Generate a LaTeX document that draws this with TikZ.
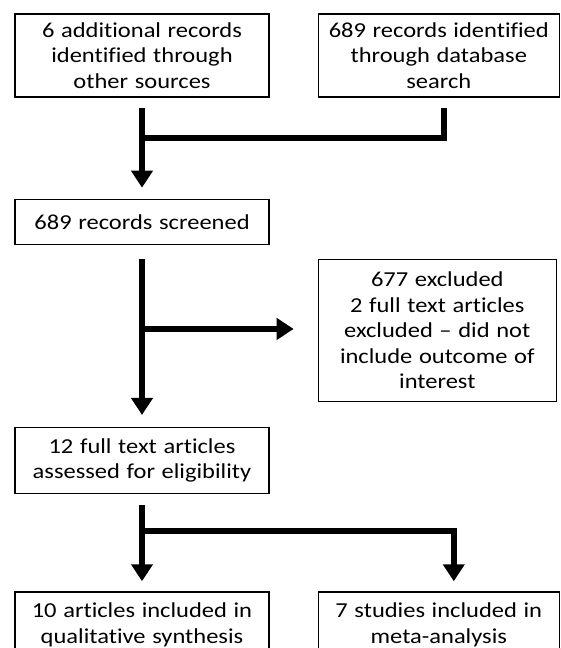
\documentclass[tikz,border=0pt]{standalone}
\usepackage{fontspec}
\newfontfamily\boxfont[Ligatures=NoCommon, FakeStretch=1.15, WordSpace=1.2]{Carlito}
\usetikzlibrary{arrows.meta,positioning}

\begin{document}
\begin{tikzpicture}[node distance=1cm,
    box/.style={rectangle, draw, line width=1.3pt, align=center, inner sep=0pt, minimum width=254pt, font=\boxfont\fontsize{21.3}{25.5}\selectfont},
    wide/.style={box, minimum width=241pt},
    link/.style={line width=6pt},
    arrow/.style={link, -{Triangle[width=21pt,length=17pt]}}]

    \useasboundingbox (0,0) rectangle (560pt,-648pt);

    \node[box, minimum height=83pt] (other) at (142pt,-55.5pt) {6 additional records\\identified through\\other sources};
    \node[wide, minimum height=83pt, right=48pt of other] (dbase) {689 records identified\\through database\\search};
    \node[box, minimum height=45pt, below=101pt of other] (screened) {689 records screened};
    \node[wide, minimum width=238pt, minimum height=142pt, below right=14pt and 48pt of screened] (excluded) {677 excluded\\2 full text articles\\excluded – did not\\include outcome of\\interest};
    \node[box, minimum height=66pt, below=182pt of screened] (eligible) {12 full text articles\\assessed for eligibility};
    \node[box, minimum height=66pt, below=97pt of eligible] (qualitative) {10 articles included in\\qualitative synthesis};
    \node[wide, minimum height=66pt, right=48pt of qualitative] (meta) {7 studies included in\\meta-analysis};

    \coordinate[below=40pt of other] (merge);
    \coordinate[below=84pt of screened] (split);
    \coordinate[below=37pt of eligible] (fork);

    \draw[link, shorten <=10pt] ([xshift=5pt]dbase.south) |- (merge);
    \draw[arrow, shorten <=10pt, shorten >=11pt] (other) -- (screened);
    \draw[arrow, shorten <=14pt, shorten >=12pt] (screened) -- (eligible);
    \draw[arrow, shorten >=24pt] (split) -- (split -| excluded.west);
    \draw[arrow, shorten <=11pt, shorten >=10pt] (eligible) -- (qualitative);
    \draw[arrow, shorten >=10pt] (fork) -| ([xshift=15pt]meta.north);
\end{tikzpicture}
\end{document}
